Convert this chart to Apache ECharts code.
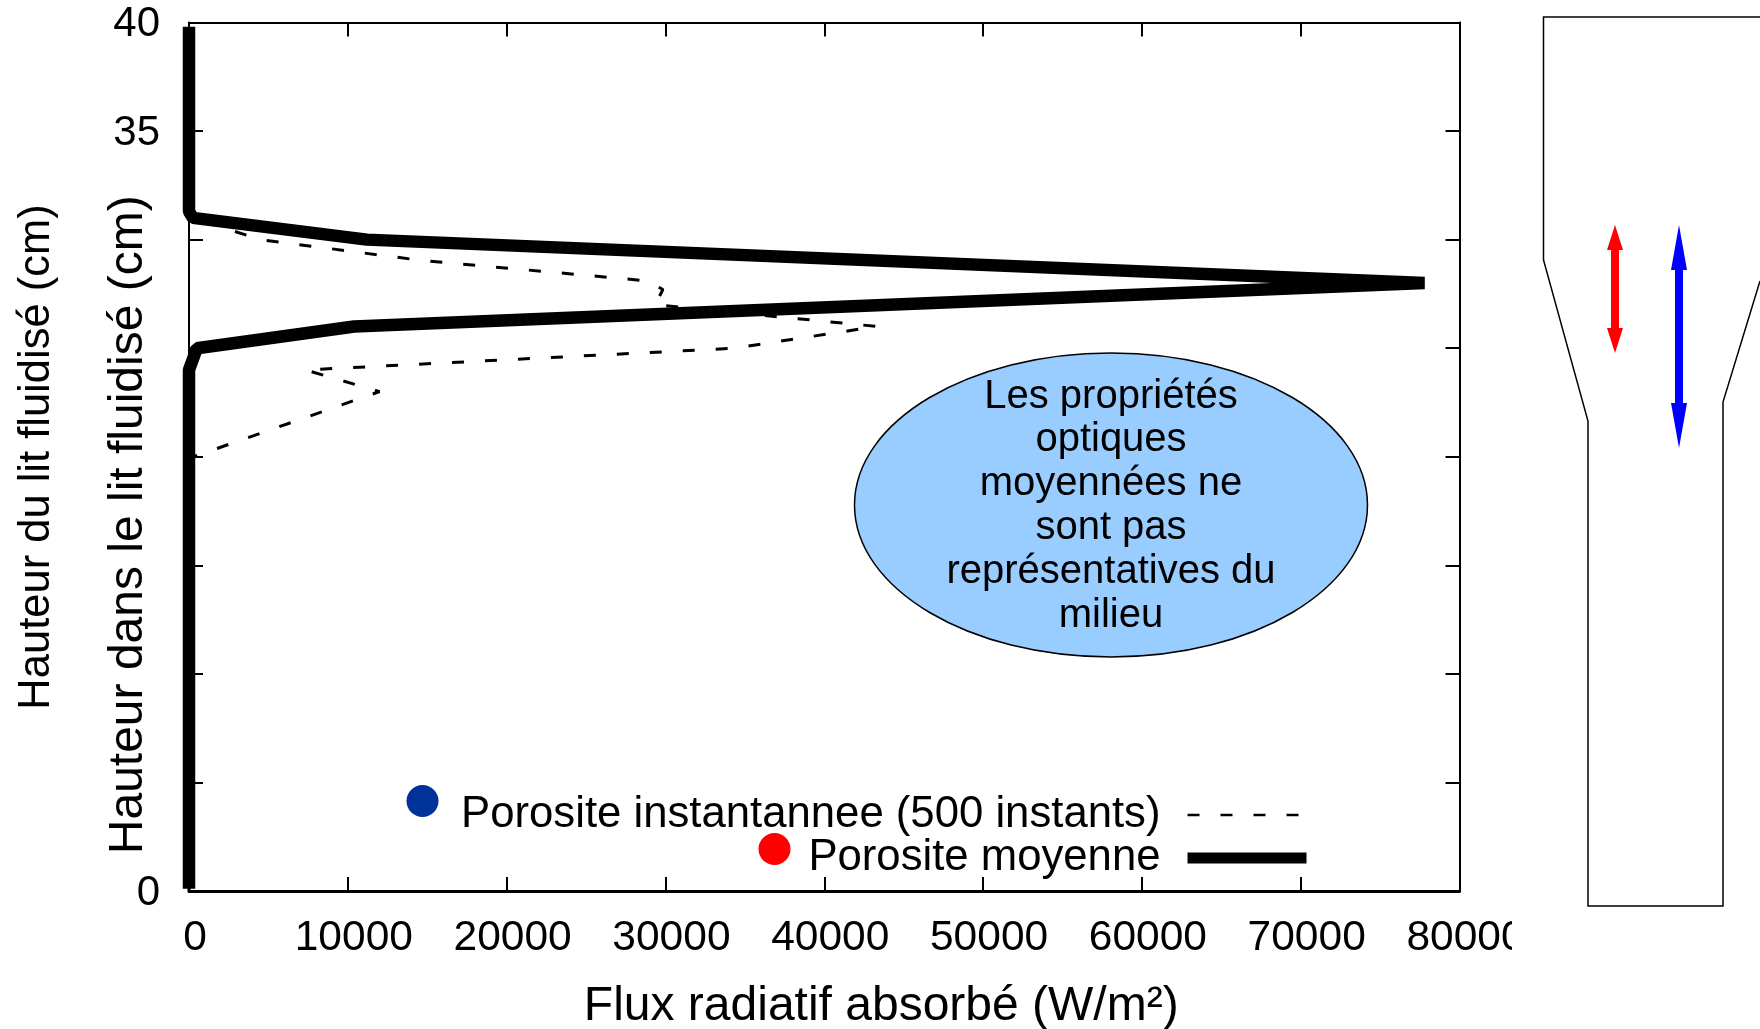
<!DOCTYPE html>
<html>
<head>
<meta charset="utf-8">
<style>html,body{margin:0;padding:0;background:#fff}#c{width:1760px;height:1029px}</style>
<script src="https://cdn.jsdelivr.net/npm/echarts@6/dist/echarts.min.js"></script>
</head>
<body>
<div id="c"></div>
<script>
const seriesNames = ['Porosite instantannee (500 instants)', 'Porosite moyenne'];
const xTitle = 'Flux radiatif absorbé (W/m²)';
const yTitle = 'Hauteur dans le lit fluidisé (cm)';
const yTitle2 = 'Hauteur du lit fluidisé (cm)';
const yTickLabels = {0: '0', 35: '35', 40: '40'};
const note = ['Les propriétés', 'optiques', 'moyennées ne', 'sont pas', 'représentatives du', 'milieu'];

const instantFlux = [0, 0, 280, 12000, 7340, 34360, 43330, 29350, 29840, 28870, 14550, 4500, 200, 0, 0];
const instantHeight = [0, 19.9, 20.0, 23.0, 24.0, 25.0, 26.0, 27.0, 27.7, 28.1, 29.05, 30.0, 31.0, 31.2, 39.8];
const meanFlux = [0, 0, 500, 10400, 77800, 11200, 250, 0, 0];
const meanHeight = [0.1, 24.0, 25.0, 26.0, 28.0, 30.0, 31.0, 31.3, 39.8];

const pairs = (xs, ys) => xs.map((x, i) => [x, ys[i]]);
const font = '"Liberation Sans", Arial, sans-serif';

const chart = echarts.init(document.getElementById('c'), null, {renderer: 'canvas'});

function arrow(cx, top, bottom, headLen, color) {
  const hw = 8, sw = 4;
  return {
    type: 'polygon', z: 100,
    shape: {points: [
      [cx, top], [cx + hw, top + headLen], [cx + sw, top + headLen],
      [cx + sw, bottom - headLen], [cx + hw, bottom - headLen], [cx, bottom],
      [cx - hw, bottom - headLen], [cx - sw, bottom - headLen], [cx - sw, top + headLen], [cx - hw, top + headLen]
    ]},
    style: {fill: color}
  };
}

const axisTick = {show: true, inside: true, length: 14, lineStyle: {color: '#000', width: 2}};
const frame = w => ({show: true, onZero: false, lineStyle: {color: '#000', width: w}});
const hiddenMark = {color: 'transparent', opacity: 0, borderWidth: 0};

chart.setOption({
  animation: false,
  backgroundColor: '#fff',
  textStyle: {fontFamily: font},
  grid: {left: 189, right: 300.5, top: 22.5, bottom: 138, containLabel: false, outerBoundsMode: 'none'},
  legend: {
    orient: 'vertical', align: 'right', right: 443, top: 788,
    itemWidth: 119, itemHeight: 30, itemGap: -1, selectedMode: false,
    textStyle: {fontSize: 43.7, lineHeight: 30, color: '#000', fontFamily: font, padding: [0, 22, 0, 0]},
    itemStyle: hiddenMark,
    data: [
      {name: seriesNames[0], itemStyle: hiddenMark, lineStyle: {width: 2.5}},
      {name: seriesNames[1], itemStyle: hiddenMark, lineStyle: {width: 11}}
    ]
  },
  xAxis: [
    {type: 'value', min: 0, max: 80000, interval: 10000, position: 'bottom',
      name: xTitle, nameLocation: 'middle', nameGap: 92,
      nameTextStyle: {fontSize: 48, color: '#000', fontFamily: font, padding: [0, 0, 0, 114]},
      axisLine: frame(3), axisTick, splitLine: {show: false},
      axisLabel: {color: '#000', fontSize: 42.5, fontFamily: font, margin: 26, padding: [0, 0, 0, 12], formatter: v => String(v), showMinLabel: true, showMaxLabel: true}},
    {type: 'value', min: 0, max: 80000, interval: 10000, position: 'top',
      axisLine: frame(2), axisTick, splitLine: {show: false}, axisLabel: {show: false}}
  ],
  yAxis: [
    {type: 'value', min: 0, max: 40, interval: 5, position: 'left',
      name: yTitle, nameLocation: 'middle', nameGap: 36, nameRotate: 90, nameMoveOverlap: false,
      nameTextStyle: {fontSize: 48, color: '#000', fontFamily: font, padding: [0, 136, 0, 0]},
      axisLine: frame(2), axisTick, splitLine: {show: false},
      axisLabel: {color: '#000', fontSize: 42, fontFamily: font, margin: 29, verticalAlign: 'top', lineHeight: 4, formatter: v => yTickLabels[v] || ''}},
    {type: 'value', min: 0, max: 40, interval: 5, position: 'right',
      axisLine: frame(2), axisTick, splitLine: {show: false}, axisLabel: {show: false}}
  ],
  series: [
    {name: seriesNames[0], type: 'line', data: pairs(instantFlux, instantHeight), clip: false, symbol: 'none', z: 3,
      lineStyle: {color: '#000', width: 3, type: [12, 21], cap: 'butt'}, itemStyle: {color: '#000'}},
    {name: seriesNames[1], type: 'line', data: pairs(meanFlux, meanHeight), clip: false, symbol: 'none', z: 4,
      lineStyle: {color: '#000', width: 12.5, cap: 'butt', join: 'bevel'}, itemStyle: {color: '#000'}}
  ],
  graphic: [
    {type: 'rect', z: 50, shape: {x: 1512, y: 0, width: 248, height: 1029}, style: {fill: '#fff'}},
    {type: 'text', z: 60, x: 37, y: 457, rotation: Math.PI / 2, originX: 0, originY: 0,
      style: {text: yTitle2, font: '43.5px ' + font, fill: '#000', align: 'center', verticalAlign: 'middle'}},
    {type: 'circle', z: 60, shape: {cx: 422.5, cy: 801, r: 16}, style: {fill: '#003399'}},
    {type: 'circle', z: 60, shape: {cx: 774.5, cy: 849, r: 16}, style: {fill: '#ff0000'}},
    {type: 'ellipse', z: 60, shape: {cx: 1111, cy: 505, rx: 256.5, ry: 152},
      style: {fill: '#99ccff', stroke: '#000', lineWidth: 1.5}},
    {type: 'text', z: 61, x: 1111, y: 506,
      style: {text: note.join('\n'), font: '40px ' + font, fill: '#000', align: 'center', verticalAlign: 'middle', lineHeight: 43.8}},
    {type: 'polyline', z: 100, shape: {points: [[1760, 17], [1543.5, 17], [1543.5, 260], [1588, 421], [1588, 906], [1723, 906], [1723, 402], [1760, 281]]},
      style: {stroke: '#000', lineWidth: 1.5, fill: 'none'}},
    arrow(1615, 225, 353, 25, '#ff0000'),
    arrow(1679, 225, 448, 45, '#0000ff')
  ]
});
</script>
</body>
</html>
